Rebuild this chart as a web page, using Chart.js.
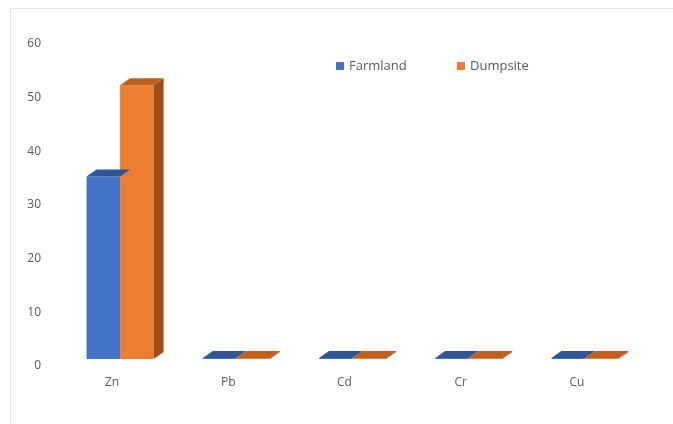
<!DOCTYPE html>
<html>
<head>
<meta charset="utf-8">
<script src="https://cdn.jsdelivr.net/npm/chart.js@4"></script>
<style>
  html, body { margin: 0; padding: 0; background: #fff; }
  #wrap { position: relative; width: 673px; height: 424px; overflow: hidden; }
  #frame { position: absolute; left: 10px; top: 8px; width: 700px; height: 450px;
           border-left: 1px solid #e3e3e3; border-top: 1px solid #e3e3e3; }
  canvas { position: absolute; left: 0; top: 0; }
</style>
</head>
<body>
<div id="wrap">
  <div id="frame"></div>
  <canvas id="myChart" width="673" height="424"></canvas>
</div>
<script>
  // Dados do gráfico
  const metals = ['Zn', 'Pb', 'Cd', 'Cr', 'Cu'];
  const farmland = [34, 0.2, 0.2, 0.2, 0.2];
  const dumpsite = [51, 0.2, 0.2, 0.2, 0.2];
  const yTicks = [0, 10, 20, 30, 40, 50, 60];

  const textColor = '#595959';
  const fontFamily = "'Open Sans', 'Liberation Sans', sans-serif";

  // faces escuras do efeito 3D
  const topColors = { Farmland: '#2f5597', Dumpsite: '#c0601f' };
  const sideColors = { Farmland: '#2a4d8a', Dumpsite: '#9c4e1c' };
  const depthX = 10, depthY = 7;

  const bar3d = {
    id: 'bar3d',
    afterDatasetsDraw(chart) {
      const ctx = chart.ctx;
      const last = chart.data.datasets.length - 1;
      chart.data.datasets.forEach(function(ds, i) {
        const meta = chart.getDatasetMeta(i);
        meta.data.forEach(function(el) {
          const p = el.getProps(['x', 'y', 'base', 'width'], true);
          const l = p.x - p.width / 2, r = p.x + p.width / 2;
          ctx.save();
          // topo
          ctx.fillStyle = topColors[ds.label];
          ctx.beginPath();
          ctx.moveTo(l, p.y);
          ctx.lineTo(r, p.y);
          ctx.lineTo(r + depthX, p.y - depthY);
          ctx.lineTo(l + depthX, p.y - depthY);
          ctx.closePath();
          ctx.fill();
          // lateral só na última série (a outra fica escondida)
          if (i === last) {
            ctx.fillStyle = sideColors[ds.label];
            ctx.beginPath();
            ctx.moveTo(r, p.y);
            ctx.lineTo(r + depthX, p.y - depthY);
            ctx.lineTo(r + depthX, p.base - depthY);
            ctx.lineTo(r, p.base);
            ctx.closePath();
            ctx.fill();
          }
          ctx.restore();
        });
      });
    }
  };

  // legenda dentro da área do gráfico
  const innerLegend = {
    id: 'innerLegend',
    afterDraw(chart) {
      const ctx = chart.ctx;
      const xs = [336, 457];
      ctx.save();
      ctx.font = '13px ' + fontFamily;
      ctx.textBaseline = 'middle';
      chart.data.datasets.forEach(function(ds, i) {
        ctx.fillStyle = ds.backgroundColor;
        ctx.fillRect(xs[i], 62, 8, 8);
        ctx.fillStyle = textColor;
        ctx.fillText(ds.label, xs[i] + 13, 66.5);
      });
      ctx.restore();
    }
  };

  const ctx1 = document.getElementById('myChart').getContext('2d');
  const myChart = new Chart(ctx1, {
    type: 'bar',
    data: {
      labels: metals,
      datasets: [{
        label: 'Farmland',
        data: farmland,
        backgroundColor: '#4472c4'
      }, {
        label: 'Dumpsite',
        data: dumpsite,
        backgroundColor: '#ed7d31'
      }]
    },
    options: {
      responsive: false,
      animation: false,
      devicePixelRatio: 1,
      categoryPercentage: 0.577,
      barPercentage: 1.0,
      layout: { padding: { left: 0, right: 30, top: 37, bottom: 0 } },
      plugins: {
        legend: { display: false },
        tooltip: { enabled: false }
      },
      scales: {
        y: {
          min: 0,
          max: 60,
          afterFit: function(scale) { scale.width = 62; },
          afterBuildTicks: function(scale) {
            scale.ticks = yTicks.map(function(v) { return { value: v }; });
          },
          grid: { display: false, drawTicks: false },
          border: { display: false },
          ticks: {
            padding: 21,
            labelOffset: 7,
            color: textColor,
            font: { family: fontFamily, size: 12 }
          }
        },
        x: {
          afterFit: function(scale) { scale.height = 65; },
          grid: { display: false, drawTicks: false },
          border: { display: false },
          ticks: {
            padding: 16,
            labelOffset: -8,
            color: textColor,
            font: { family: fontFamily, size: 12 }
          }
        }
      }
    },
    plugins: [bar3d, innerLegend]
  });
</script>
</body>
</html>
